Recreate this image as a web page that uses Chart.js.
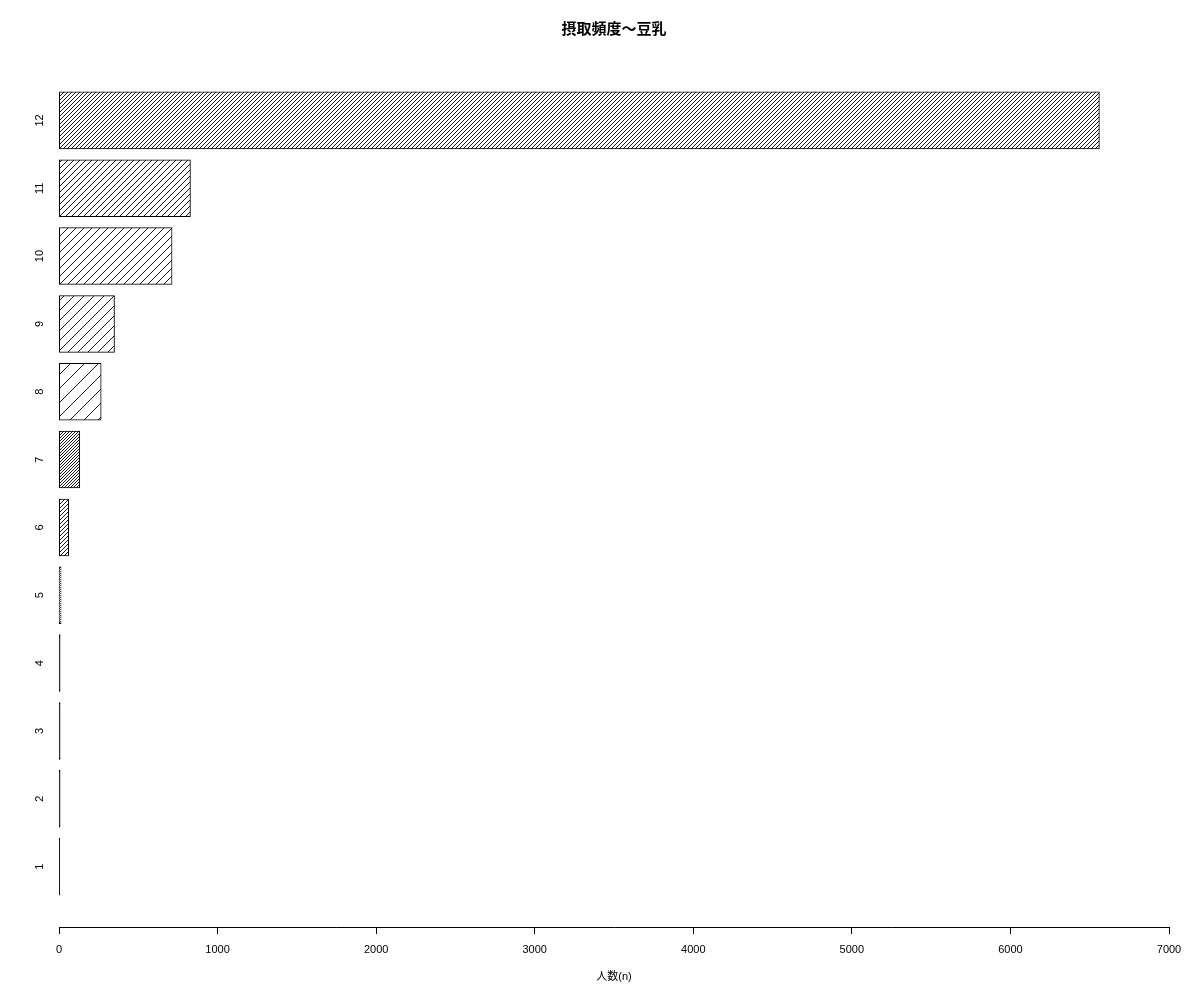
<!DOCTYPE html>
<html>
<head>
<meta charset="utf-8">
<title>摂取頻度〜豆乳</title>
<script src="https://cdn.jsdelivr.net/npm/chart.js@4/dist/chart.umd.min.js"></script>
<style>
  body { margin: 0; background: #fff; }
  canvas { display: block; }
</style>
</head>
<body>
<canvas id="grafico" width="1200" height="1000"></canvas>
<script>
// categorias (frequencia) e numero de pessoas
const categorias = ['1', '2', '3', '4', '5', '6', '7', '8', '9', '10', '11', '12']
const pessoas = [2, 6, 6, 6, 12, 60, 130, 265, 349, 712, 828, 6560]
// espacamento horizontal das hachuras (px) de cada barra
const hachuras = [1, 1, 1, 1, 2, 4, 3, 14, 10, 7.5, 5.5, 4.2]
const ticksX = [0, 1000, 2000, 3000, 4000, 5000, 6000, 7000]

const fonte = "'Liberation Sans', 'Noto Sans CJK JP', sans-serif"

function criaHachura(passo) {
	// barras muito finas: so aparece a borda preta
	if (passo < 1.5) return '#000'
	let s = Math.max(2, Math.round(passo))
	let c = document.createElement('canvas')
	c.width = s
	c.height = s
	let g = c.getContext('2d')
	g.fillStyle = '#fff'
	g.fillRect(0, 0, s, s)
	g.strokeStyle = '#000'
	g.lineWidth = 0.9
	g.beginPath()
	g.moveTo(-1, s + 1)
	g.lineTo(s + 1, -1)
	g.moveTo(-1, 1)
	g.lineTo(1, -1)
	g.moveTo(s - 1, s + 1)
	g.lineTo(s + 1, s - 1)
	g.stroke()
	return g.createPattern(c, 'repeat')
}

const ctx = document.getElementById('grafico').getContext('2d')

var dados = {
	type: 'bar',
	data: {
		datasets: [{
			label: '人数',
			data: pessoas.map((v, i) => ({ x: v, y: i + 1 })),
			backgroundColor: hachuras.map(criaHachura),
			borderColor: '#000',
			borderWidth: 1,
			borderSkipped: false,
			inflateAmount: 0.5,
			barPercentage: 1 / 1.2,
			categoryPercentage: 1
		}]
	},
	options: {
		indexAxis: 'y',
		responsive: false,
		animation: false,
		layout: { padding: { left: 0, right: 31, top: 0, bottom: 0 } },
		plugins: {
			legend: { display: false },
			tooltip: { enabled: false },
			title: {
				display: true,
				fullSize: false,
				text: '摂取頻度〜豆乳',
				color: '#000',
				font: { family: fonte, size: 15, weight: 'bold' },
				padding: { top: 21, bottom: 21 }
			}
		},
		scales: {
			x: {
				type: 'linear',
				min: 0,
				max: 7000,
				afterBuildTicks: (scale) => { scale.ticks = ticksX.map(v => ({ value: v })) },
				ticks: {
					color: '#000',
					font: { family: fonte, size: 11 },
					padding: 9,
					callback: (v) => String(v)
				},
				grid: { display: true, drawOnChartArea: false, drawTicks: true, tickLength: 7, color: '#000', lineWidth: 1 },
				border: { display: true, color: '#000', width: 1 },
				title: {
					display: true,
					text: '人数(n)',
					color: '#000',
					font: { family: fonte, size: 11 },
					padding: { top: 4, bottom: 16 }
				},
				afterFit: (scale) => { scale.height = 73 }
			},
			y: {
				type: 'linear',
				min: 0.11,
				max: 12.89,
				offset: false,
				ticks: {
					stepSize: 1,
					includeBounds: false,
					color: '#000',
					font: { family: fonte, size: 11 },
					minRotation: 90,
					maxRotation: 90,
					crossAlign: 'center',
					padding: 4.5,
					callback: (v) => Number.isInteger(v) && v >= 1 && v <= categorias.length ? categorias[v - 1] : ''
				},
				grid: { display: false, offset: false },
				border: { display: false },
				afterFit: (scale) => { scale.width = 59 }
			}
		}
	}
}
new Chart(ctx, dados)
</script>
</body>
</html>
